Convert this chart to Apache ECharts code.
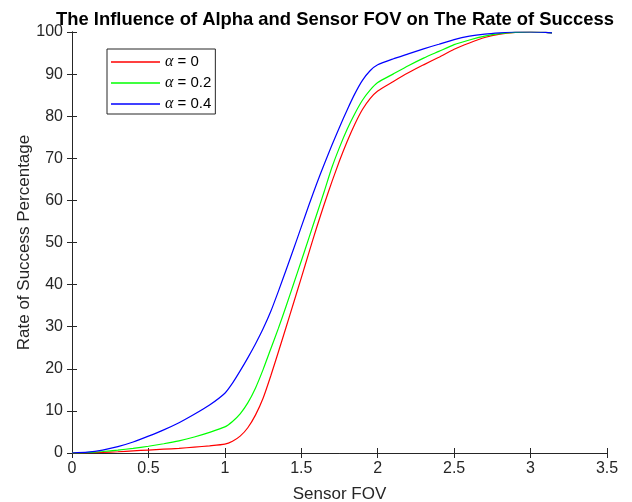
<!DOCTYPE html>
<html>
<head>
<meta charset="utf-8">
<script src="https://cdn.jsdelivr.net/npm/echarts@6/dist/echarts.min.js"></script>
<style>
  html, body { margin: 0; padding: 0; background: #fff; }
  #chart { width: 632px; height: 502px; }
</style>
</head>
<body>
<div id="chart"></div>
<script>
// sensor FOV sample points
const fov = [0, 0.1, 0.2, 0.3, 0.4, 0.5, 0.6, 0.7, 0.8, 0.9,
    1.0, 1.05, 1.1, 1.15, 1.2, 1.25, 1.3, 1.35, 1.4, 1.45,
    1.5, 1.55, 1.6, 1.65, 1.7, 1.75, 1.8, 1.85, 1.9, 1.95,
    2.0, 2.1, 2.2, 2.3, 2.4, 2.5, 2.6, 2.7, 2.8, 2.9, 3.0, 3.1, 3.14];

const alpha0 = [0, 0.05, 0.15, 0.3, 0.5, 0.7, 0.9, 1.1, 1.4, 1.7,
    2.1, 2.8, 4.0, 6.0, 9.0, 13.0, 18.3, 24.0, 29.8, 35.7,
    41.6, 47.6, 53.5, 59.1, 64.4, 69.4, 74.0, 78.1, 81.6, 84.2,
    86.0, 88.2, 90.3, 92.2, 94.0, 95.9, 97.4, 98.7, 99.5, 99.9, 100, 99.9, 99.8];

const alpha02 = [0, 0.1, 0.35, 0.7, 1.1, 1.6, 2.2, 2.9, 3.8, 4.9,
    6.2, 7.5, 9.3, 11.9, 15.4, 19.8, 24.7, 29.6, 34.8, 40.2,
    45.6, 51.1, 56.6, 62.1, 67.8, 72.6, 76.9, 80.6, 83.8, 86.2,
    88.0, 90.0, 92.0, 93.8, 95.4, 97.0, 98.1, 99.0, 99.6, 99.9, 100, 99.9, 99.8];

const alpha04 = [0, 0.2, 0.7, 1.5, 2.6, 4.0, 5.5, 7.2, 9.2, 11.4,
    14.2, 16.6, 19.5, 22.6, 25.9, 29.5, 33.6, 38.4, 43.4, 48.5,
    53.7, 58.9, 63.9, 68.6, 73.1, 77.4, 81.5, 85.3, 88.5, 90.8,
    92.2, 93.6, 94.8, 96.0, 97.1, 98.2, 99.0, 99.5, 99.8, 100, 100, 99.9, 99.8];

const seriesNames = ['α = 0', 'α = 0.2', 'α = 0.4'];
const seriesColors = ['#ff0000', '#00ff00', '#0000ff'];
const xTicks = [0, 3.5, 0.5];   // min, max, interval
const yTicks = [0, 100, 10];

const font = 'Liberation Sans, Arial, sans-serif';
const ink = '#262626';

let chartDom = document.getElementById('chart');
let myChart = echarts.init(chartDom);
let option;

const pairs = ys => fov.map((x, i) => [x, ys[i]]);
const allData = [alpha0, alpha02, alpha04];

const baseAxis = {
    axisLine: { show: true, lineStyle: { color: ink, width: 1 } },
    axisTick: { show: true, inside: true, length: 5, lineStyle: { color: ink } },
    splitLine: { show: false }
};

option = {
    animation: false,
    backgroundColor: '#fff',
    title: {
        text: 'The Influence of Alpha and Sensor FOV on The Rate of Success',
        left: 330,
        textAlign: 'center',
        top: 6,
        textStyle: { fontFamily: font, fontSize: 18.4, fontWeight: 'bold', color: '#000' }
    },
    grid: { left: 72, right: 25, top: 32, bottom: 49, containLabel: false, outerBoundsMode: 'none' },
    legend: {
        orient: 'vertical',
        left: 107,
        top: 49,
        padding: [5, 4, 2, 4],
        itemGap: 5,
        itemWidth: 49,
        itemHeight: 1.4,
        borderColor: ink,
        borderWidth: 1,
        backgroundColor: '#fff',
        icon: 'rect',
        data: seriesNames,
        formatter: name => name.replace('α', '{a|α}'),
        textStyle: {
            fontFamily: font,
            fontSize: 15,
            color: '#000',
            rich: {
                a: { fontFamily: 'Liberation Serif, DejaVu Serif, serif', fontStyle: 'italic', fontSize: 16, color: '#000' }
            }
        }
    },
    xAxis: [
        Object.assign({}, baseAxis, {
            type: 'value',
            min: xTicks[0], max: xTicks[1], interval: xTicks[2],
            position: 'bottom',
            name: 'Sensor FOV',
            nameLocation: 'middle',
            nameGap: 33,
            nameMoveOverlap: false,
            nameTextStyle: { fontFamily: font, fontSize: 17, color: ink },
            axisLabel: { fontFamily: font, fontSize: 16, color: ink, margin: 8 }
        }),
        Object.assign({}, baseAxis, {
            type: 'value',
            min: xTicks[0], max: xTicks[1], interval: xTicks[2],
            position: 'top',
            axisLabel: { show: false }
        })
    ],
    yAxis: [
        Object.assign({}, baseAxis, {
            type: 'value',
            min: yTicks[0], max: yTicks[1], interval: yTicks[2],
            position: 'left',
            name: 'Rate of Success Percentage',
            nameLocation: 'middle',
            nameGap: 39,
            nameMoveOverlap: false,
            nameTextStyle: { fontFamily: font, fontSize: 17, color: ink },
            axisLabel: { fontFamily: font, fontSize: 16, color: ink, margin: 9 }
        }),
        Object.assign({}, baseAxis, {
            type: 'value',
            min: yTicks[0], max: yTicks[1], interval: yTicks[2],
            position: 'right',
            axisLabel: { show: false }
        })
    ],
    series: seriesNames.map((name, i) => ({
        name: name,
        type: 'line',
        xAxisIndex: 0,
        yAxisIndex: 0,
        showSymbol: false,
        smooth: 0.2,
        lineStyle: { color: seriesColors[i], width: 1.2 },
        itemStyle: { color: seriesColors[i] },
        data: pairs(allData[i])
    }))
};

option && myChart.setOption(option);
</script>
</body>
</html>
